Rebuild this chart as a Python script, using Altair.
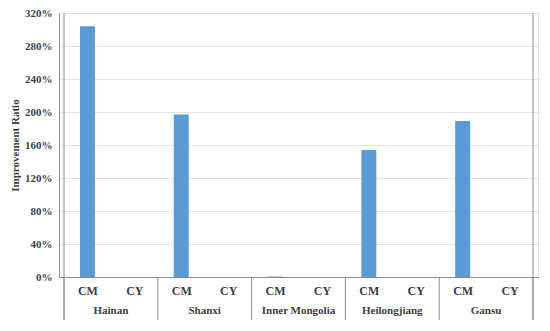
import altair as alt
import pandas as pd

groups = ["Hainan", "Shanxi", "Inner Mongolia", "Heilongjiang", "Gansu"]
subs = ["CM", "CY"]
cm_values = [304, 197, 0.6, 154, 189]
cy_values = [0, 0, 0, 0, 0]
y_ticks = [0, 40, 80, 120, 160, 200, 240, 280, 320]

rows = []
for g, name in enumerate(groups):
    rows.append({"group": name, "sub": "CM", "pos": 2 * g + 0.5, "value": cm_values[g]})
    rows.append({"group": name, "sub": "CY", "pos": 2 * g + 1.5, "value": cy_values[g]})
df = pd.DataFrame(rows)
grp_df = pd.DataFrame({"group": groups, "mid": [2 * g + 1 for g in range(len(groups))]})
sep_df = pd.DataFrame({"b": list(range(0, 2 * len(groups) + 1, 2))})
outer_df = pd.DataFrame({"b": [0, 2 * len(groups)]})

W, H = 479, 264
FONT = "'Times New Roman', 'Liberation Serif', 'DejaVu Serif', serif"
GRID = "#e3e3e3"
LINE = "#8c8c8c"
TXT = "#404040"

xscale = alt.Scale(domain=[0, 10], nice=False, zero=False)
yscale = alt.Scale(domain=[0, 320], nice=False)

bars = alt.Chart(df).mark_bar(color="#5B9BD5", size=15).encode(
    x=alt.X("pos:Q", scale=xscale,
            axis=alt.Axis(values=[i + 0.5 for i in range(10)],
                          labelExpr="datum.value % 2 < 1 ? 'CM' : 'CY'",
                          title=None, grid=False, ticks=False,
                          domainColor=LINE, labelFont=FONT, labelFontSize=12,
                          labelFontWeight="bold", labelColor=TXT, labelPadding=8)),
    y=alt.Y("value:Q", scale=yscale,
            axis=alt.Axis(values=y_ticks, labelExpr="datum.value + '%'",
                          title="Improvement Ratio", titleFont=FONT,
                          titleFontSize=11, titleFontWeight="bold", titleColor=TXT,
                          titleX=-44, titleY=H / 2, titleBaseline="middle",
                          titleAngle=270,
                          grid=True, gridColor=GRID, ticks=False,
                          domainColor=LINE, labelFont=FONT, labelFontSize=11,
                          labelFontWeight="bold", labelColor=TXT, labelPadding=7)),
)

group_text = alt.Chart(grp_df).mark_text(
    font=FONT, fontSize=11, fontWeight="bold", color=TXT, baseline="middle"
).encode(
    x=alt.X("mid:Q", scale=xscale),
    y=alt.value(H + 34),
    text="group:N",
)

seps = alt.Chart(sep_df).mark_rule(color=LINE, strokeWidth=1).encode(
    x=alt.X("b:Q", scale=xscale),
    y=alt.value(H),
    y2=alt.value(H + 43),
)

outer = alt.Chart(outer_df).mark_rule(color=LINE, strokeWidth=1).encode(
    x=alt.X("b:Q", scale=xscale),
    y=alt.value(0),
    y2=alt.value(H + 43),
)

chart = alt.layer(bars, seps, outer, group_text).properties(
    width=W, height=H,
    autosize=alt.AutoSizeParams(type="none"),
    padding={"left": 51, "top": 5, "right": 4, "bottom": 50},
).configure_view(stroke=None).configure(background="white")

chart.save("out.html", embed_options={"renderer": "svg", "actions": False})
